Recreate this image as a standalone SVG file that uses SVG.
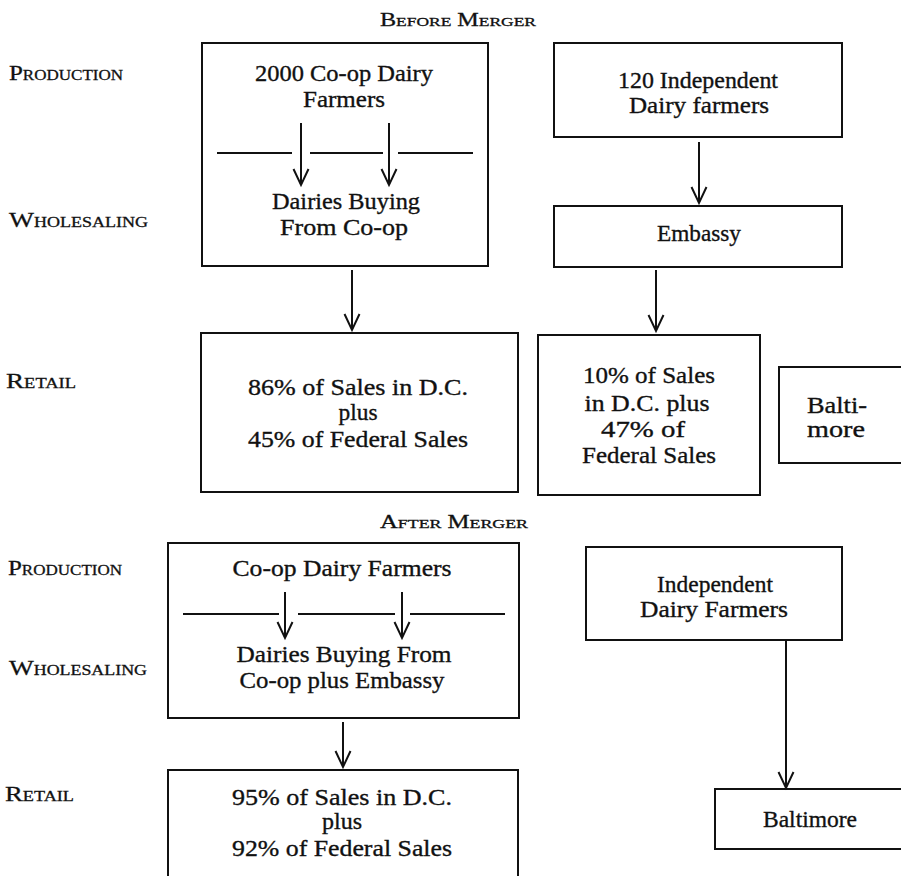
<svg xmlns="http://www.w3.org/2000/svg" width="901" height="876" viewBox="0 0 901 876">
<style>
  text { font-family: "Liberation Serif", "Times New Roman", serif; fill: #111; }
  .t { font-size: 24px; text-anchor: middle; stroke: #111; stroke-width: 0.35; }
  .lbl { font-size: 22px; font-variant: small-caps; stroke: #111; stroke-width: 0.3; }
  .ttl { font-size: 18px; font-variant: small-caps; text-anchor: middle; stroke: #111; stroke-width: 0.3; }
  .box { fill: none; stroke: #111; stroke-width: 2; }
  .div { stroke: #111; stroke-width: 2; fill: none; }
  .arr { stroke: #111; stroke-width: 2; fill: none; marker-end: url(#ah); }
</style>
<defs>
  <marker id="ah" markerUnits="userSpaceOnUse" markerWidth="20" markerHeight="20" refX="0" refY="0" orient="auto" overflow="visible">
    <path d="M-16,-7.5 L0,0 L-16,7.5" fill="none" stroke="#111" stroke-width="2"/>
  </marker>
</defs>
<rect width="901" height="876" fill="#fff"/>

<g id="titles">
  <text class="ttl" x="458" y="26" textLength="156" lengthAdjust="spacingAndGlyphs">Before Merger</text>
  <text class="ttl" x="454" y="528" textLength="148" lengthAdjust="spacingAndGlyphs">After Merger</text>
</g>

<g id="row-labels">
  <text class="lbl" x="9" y="80" textLength="114" lengthAdjust="spacingAndGlyphs">Production</text>
  <text class="lbl" x="9" y="227" textLength="139" lengthAdjust="spacingAndGlyphs">Wholesaling</text>
  <text class="lbl" x="6" y="388" textLength="70" lengthAdjust="spacingAndGlyphs">Retail</text>
  <text class="lbl" x="8" y="575" textLength="114" lengthAdjust="spacingAndGlyphs">Production</text>
  <text class="lbl" x="9" y="675" textLength="138" lengthAdjust="spacingAndGlyphs">Wholesaling</text>
  <text class="lbl" x="5" y="801" textLength="69" lengthAdjust="spacingAndGlyphs">Retail</text>
</g>

<g id="before-coop">
  <rect class="box" x="202" y="43" width="286" height="223"/>
  <text class="t" x="344" y="81" textLength="178" lengthAdjust="spacingAndGlyphs">2000 Co-op Dairy</text>
  <text class="t" x="344" y="107" textLength="82" lengthAdjust="spacingAndGlyphs">Farmers</text>
  <path class="div" d="M217,153 H292 M310,153 H383 M398,153 H473"/>
  <text class="t" x="346" y="209" textLength="148" lengthAdjust="spacingAndGlyphs">Dairies Buying</text>
  <text class="t" x="344" y="235" textLength="128" lengthAdjust="spacingAndGlyphs">From Co-op</text>
</g>

<g id="before-independent">
  <rect class="box" x="554" y="43" width="288" height="94"/>
  <text class="t" x="698" y="88" textLength="160" lengthAdjust="spacingAndGlyphs">120 Independent</text>
  <text class="t" x="699" y="113" textLength="140" lengthAdjust="spacingAndGlyphs">Dairy farmers</text>
</g>

<g id="before-embassy">
  <rect class="box" x="554" y="206" width="288" height="61"/>
  <text class="t" x="699" y="241" textLength="84" lengthAdjust="spacingAndGlyphs">Embassy</text>
</g>

<g id="before-retail-coop">
  <rect class="box" x="201" y="333" width="317" height="159"/>
  <text class="t" x="358" y="395" textLength="220" lengthAdjust="spacingAndGlyphs">86% of Sales in D.C.</text>
  <text class="t" x="358" y="420" textLength="39" lengthAdjust="spacingAndGlyphs">plus</text>
  <text class="t" x="358" y="447" textLength="220" lengthAdjust="spacingAndGlyphs">45% of Federal Sales</text>
</g>

<g id="before-retail-embassy">
  <rect class="box" x="538" y="335" width="222" height="160"/>
  <text class="t" x="649" y="383" textLength="132" lengthAdjust="spacingAndGlyphs">10% of Sales</text>
  <text class="t" x="647" y="411" textLength="125" lengthAdjust="spacingAndGlyphs">in D.C. plus</text>
  <text class="t" x="643" y="437" textLength="84" lengthAdjust="spacingAndGlyphs">47% of</text>
  <text class="t" x="649" y="463" textLength="134" lengthAdjust="spacingAndGlyphs">Federal Sales</text>
</g>

<g id="before-baltimore">
  <rect class="box" x="779" y="367" width="140" height="96"/>
  <text class="t" x="837" y="413" textLength="60" lengthAdjust="spacingAndGlyphs">Balti-</text>
  <text class="t" x="836" y="437" textLength="58" lengthAdjust="spacingAndGlyphs">more</text>
</g>

<g id="after-coop">
  <rect class="box" x="168" y="543" width="351" height="175"/>
  <text class="t" x="342" y="576" textLength="219" lengthAdjust="spacingAndGlyphs">Co-op Dairy Farmers</text>
  <path class="div" d="M183,614 H279 M298,614 H395 M410,614 H505"/>
  <text class="t" x="344" y="662" textLength="215" lengthAdjust="spacingAndGlyphs">Dairies Buying From</text>
  <text class="t" x="342" y="688" textLength="205" lengthAdjust="spacingAndGlyphs">Co-op plus Embassy</text>
</g>

<g id="after-retail">
  <rect class="box" x="168" y="770" width="350" height="130"/>
  <text class="t" x="342" y="805" textLength="220" lengthAdjust="spacingAndGlyphs">95% of Sales in D.C.</text>
  <text class="t" x="342" y="829" textLength="40" lengthAdjust="spacingAndGlyphs">plus</text>
  <text class="t" x="342" y="856" textLength="220" lengthAdjust="spacingAndGlyphs">92% of Federal Sales</text>
</g>

<g id="after-independent">
  <rect class="box" x="586" y="547" width="256" height="93"/>
  <text class="t" x="715" y="592" textLength="116" lengthAdjust="spacingAndGlyphs">Independent</text>
  <text class="t" x="714" y="617" textLength="148" lengthAdjust="spacingAndGlyphs">Dairy Farmers</text>
</g>

<g id="after-baltimore">
  <rect class="box" x="715" y="789" width="200" height="60"/>
  <text class="t" x="810" y="827" textLength="94" lengthAdjust="spacingAndGlyphs">Baltimore</text>
</g>

<g id="connectors">
  <line class="arr" x1="301" y1="123" x2="301" y2="185"/>
  <line class="arr" x1="389" y1="123" x2="389" y2="185"/>
  <line class="arr" x1="352" y1="270" x2="352" y2="330"/>
  <line class="arr" x1="699" y1="142" x2="699" y2="203"/>
  <line class="arr" x1="656" y1="270" x2="656" y2="331"/>
  <line class="arr" x1="285" y1="592" x2="285" y2="638"/>
  <line class="arr" x1="402" y1="592" x2="402" y2="638"/>
  <line class="arr" x1="343" y1="722" x2="343" y2="767"/>
  <line class="arr" x1="786" y1="640" x2="786" y2="788"/>
</g>
</svg>
